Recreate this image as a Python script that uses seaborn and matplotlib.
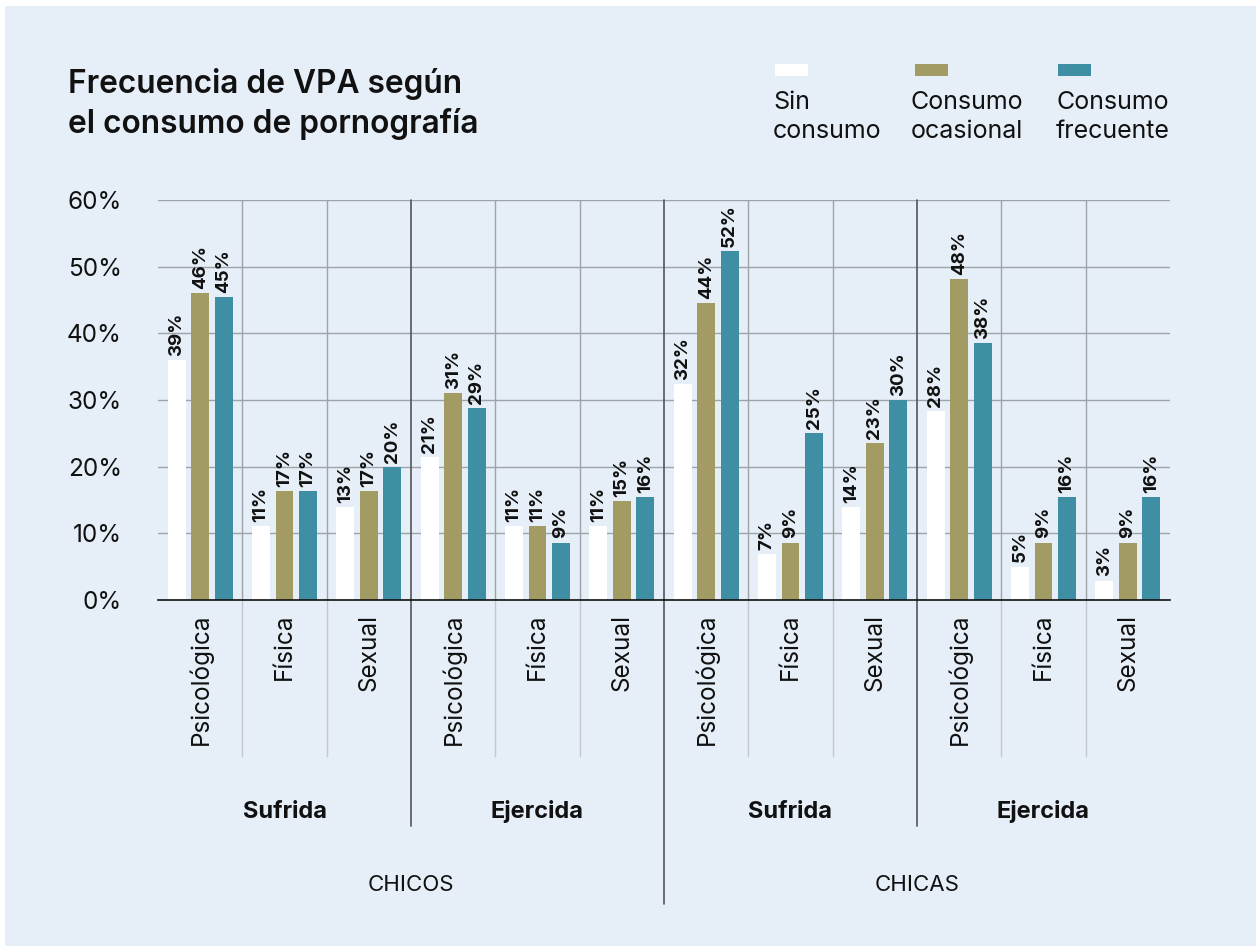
import matplotlib
matplotlib.use("Agg")
import matplotlib.pyplot as plt
from matplotlib.patches import Rectangle
import numpy as np
import pandas as pd
import seaborn as sns

# categories
generos = ["CHICOS", "CHICAS"]
roles = ["Sufrida", "Ejercida"]
tipos = ["Psicológica", "Física", "Sexual"]
series = ["Sin consumo", "Consumo ocasional", "Consumo frecuente"]
legend_labels = ["Sin\nconsumo", "Consumo\nocasional", "Consumo\nfrecuente"]

# bar heights as drawn (%), order: chicos sufrida/ejercida, chicas sufrida/ejercida
sin_consumo = [36.0, 11.1, 13.9, 21.4, 11.1, 11.1, 32.4, 6.9, 13.9, 28.3, 5.0, 2.9]
ocasional = [46.1, 16.3, 16.3, 31.0, 11.1, 14.9, 44.6, 8.6, 23.6, 48.2, 8.6, 8.6]
frecuente = [45.5, 16.3, 20.0, 28.8, 8.6, 15.5, 52.3, 25.0, 30.0, 38.6, 15.5, 15.5]

# printed labels
sin_lbl = [39, 11, 13, 21, 11, 11, 32, 7, 14, 28, 5, 3]
oca_lbl = [46, 17, 17, 31, 11, 15, 44, 9, 23, 48, 9, 9]
fre_lbl = [45, 17, 20, 29, 9, 16, 52, 25, 30, 38, 16, 16]

colores = {"Sin consumo": "#FFFFFF", "Consumo ocasional": "#A39B64", "Consumo frecuente": "#3E8FA3"}
BG = "#E6EEF7"
W, H = 1256, 948


def fx(px):
    return px / W


def fy(py):
    return 1 - py / H


cats = [f"{g}-{r}-{t}" for g in generos for r in roles for t in tipos]
rows = []
for s, vals in zip(series, [sin_consumo, ocasional, frecuente]):
    for c, v in zip(cats, vals):
        rows.append({"cat": c, "serie": s, "valor": v})
df = pd.DataFrame(rows)

sns.set_style("white")
plt.rcParams["font.family"] = ["Inter", "DejaVu Sans"]

fig = plt.figure(figsize=(W / 100, H / 100), dpi=100)
fig.patch.set_facecolor("white")
fig.patches.append(Rectangle((fx(5), 0.002), 1, fy(6) - 0.002, transform=fig.transFigure,
                             facecolor=BG, edgecolor="none", zorder=-10))

ax = fig.add_axes([fx(158), fy(600), fx(1170) - fx(158), (600 - 200) / H])
ax.set_facecolor("none")

sns.barplot(data=df, x="cat", y="valor", hue="serie", order=cats, hue_order=series,
            palette=colores, width=0.836, gap=0.235, saturation=1, legend=False, ax=ax,
            linewidth=0, edgecolor="none", zorder=3)

for cont, lbls in zip(ax.containers, [sin_lbl, oca_lbl, fre_lbl]):
    ax.bar_label(cont, labels=[f"{v}%" for v in lbls], rotation=90, padding=3,
                 fontsize=13.5, fontweight="bold", color="#111111")

ax.set_xlim(-0.5, len(cats) - 0.5)
ax.set_ylim(0, 60)
ax.set_yticks(range(0, 61, 10))
ax.set_yticklabels([f"{v}%" for v in range(0, 61, 10)], fontsize=17.5, color="#111111")
ax.set_xticks(range(len(cats)))
ax.set_xticklabels([t for g in generos for r in roles for t in tipos], rotation=90,
                   fontsize=17.5, color="#111111", va="top")
ax.tick_params(axis="y", length=0, pad=26)
ax.tick_params(axis="x", length=0, pad=10)
ax.set_xlabel("")
ax.set_ylabel("")
ax.yaxis.grid(True, color="#9EA3A9", linewidth=1.0, zorder=0)
for side in ["top", "right", "left"]:
    ax.spines[side].set_visible(False)
ax.spines["bottom"].set_color("#111111")
ax.spines["bottom"].set_linewidth(1.2)
ax.spines["bottom"].set_zorder(5)

# separators
tr = ax.get_xaxis_transform()
for i in range(len(cats) - 1):
    x = i + 0.5
    k = i + 1
    if k == 6:
        ax.plot([x, x], [1, -0.76], transform=tr, color="#555555", lw=1.2, clip_on=False, zorder=1)
    elif k % 3 == 0:
        ax.plot([x, x], [1, -0.565], transform=tr, color="#555555", lw=1.2, clip_on=False, zorder=1)
    else:
        ax.plot([x, x], [1, 0], transform=tr, color="#9EA3A9", lw=1.0, clip_on=False, zorder=1)
        ax.plot([x, x], [0, -0.39], transform=tr, color="#C3C8CE", lw=1.0, clip_on=False, zorder=1)

# role and gender labels
for gi, g in enumerate(generos):
    for ri, r in enumerate(roles):
        xc = gi * 6 + ri * 3 + 1
        ax.text(xc, (600 - 818) / 400, r, transform=tr, ha="center", va="baseline",
                fontsize=17, fontweight="bold", color="#111111")
    ax.text(gi * 6 + 2.5, (600 - 891) / 400, g, transform=tr, ha="center", va="baseline",
            fontsize=16, color="#111111")

# title
fig.text(fx(68), fy(93), "Frecuencia de VPA según", fontsize=22.8, fontweight="semibold",
         color="#111111", va="baseline")
fig.text(fx(68), fy(133), "el consumo de pornografía", fontsize=22.8, fontweight="semibold",
         color="#111111", va="baseline")

# legend
for s, lab, px_box, px_txt in zip(series, legend_labels, [775, 915, 1058], [773, 911, 1056]):
    fig.patches.append(Rectangle((fx(px_box), fy(76)), fx(33), 12 / H, transform=fig.transFigure,
                                 facecolor=colores[s], edgecolor="none"))
    l1, l2 = lab.split("\n")
    fig.text(fx(px_txt), fy(109), l1, fontsize=18, color="#111111", va="baseline")
    fig.text(fx(px_txt), fy(138), l2, fontsize=18, color="#111111", va="baseline")

fig.savefig("out.png", dpi=100, facecolor=fig.get_facecolor())
